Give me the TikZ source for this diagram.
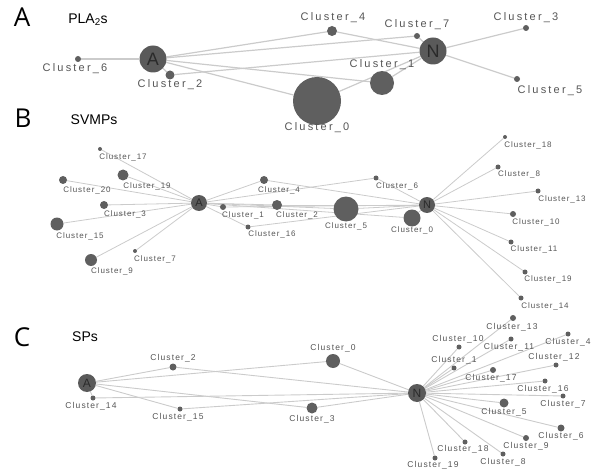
\documentclass[tikz,border=0pt]{standalone}
\usepackage{fontspec}
\setmainfont{Liberation Sans}
\newfontfamily\lblAfont[LetterSpace=20]{Liberation Sans}
\newfontfamily\lblBfont[LetterSpace=12]{Liberation Sans}
\newfontfamily\lblCfont[LetterSpace=13]{Liberation Sans}
\newfontfamily\panelfont{Open Sans}
\usetikzlibrary{backgrounds}
\definecolor{edgegray}{HTML}{CBCBCB}
\definecolor{nodegray}{HTML}{5F5F5F}
\definecolor{hubgray}{HTML}{5A5A5A}
\definecolor{hubtext}{HTML}{2A2A2A}
\definecolor{lblgray}{HTML}{555555}
\begin{document}
\begin{tikzpicture}[x=1pt,y=-1pt,
  cnode/.style={circle,fill=nodegray,inner sep=0pt,minimum size=#1},
  hub/.style={circle,fill=hubgray,inner sep=0pt,text=hubtext,minimum size=#1},
  lblA/.style={text=lblgray,inner sep=0pt,font=\lblAfont\fontsize{11}{11}\selectfont},
  lblB/.style={text=lblgray,inner sep=0pt,font=\lblBfont\fontsize{8}{8}\selectfont},
  lblC/.style={text=lblgray,inner sep=0pt,font=\lblCfont\fontsize{8.5}{8.5}\selectfont},
  panel/.style={inner sep=0pt,font=\panelfont\fontsize{26}{26}\selectfont},
  ptitle/.style={inner sep=0pt,font=\fontsize{14}{14}\selectfont},
  edgeA/.style={draw=edgegray,line width=1.2pt},
  edgeB/.style={draw=edgegray,line width=0.8pt},
  edgeC/.style={draw=edgegray,line width=0.9pt}]
\useasboundingbox (0,0) rectangle (600,476);

% ---------------- Panel A ----------------
\node[panel] (pA) at (22,17) {A};
\node[ptitle] (tA) at (88,20) {PLA\textsubscript{2}s};
\node[hub=27pt,font=\fontsize{18}{18}\selectfont] (aA) at (153,59) {A};
\node[hub=27pt,font=\fontsize{18}{18}\selectfont] (aN) at (433,51) {N};
\node[cnode=48pt] (a0) at (317,101) {};
\node[cnode=24pt] (a1) at (382,83) {};
\node[cnode=9pt] (a2) at (170,75) {};
\node[cnode=6pt] (a3) at (526,28) {};
\node[cnode=10pt] (a4) at (332,31) {};
\node[cnode=6pt] (a5) at (517,79) {};
\node[cnode=6pt] (a6) at (78,59) {};
\node[cnode=6pt] (a7) at (417,36) {};
\node[lblA] (la0) at (317,128) {Cluster\_0};
\node[lblA] (la1) at (382,65) {Cluster\_1};
\node[lblA] (la2) at (170,85) {Cluster\_2};
\node[lblA] (la3) at (526,18) {Cluster\_3};
\node[lblA] (la4) at (333,18) {Cluster\_4};
\node[lblA] (la5) at (550,91) {Cluster\_5};
\node[lblA] (la6) at (75,69) {Cluster\_6};
\node[lblA] (la7) at (417,25) {Cluster\_7};
\begin{scope}[on background layer]
\foreach \n in {a6,a2,a4,a7,a0,a1} \draw[edgeA] (aA) -- (\n);
\foreach \n in {a4,a7,a3,a5,a2,a0,a1} \draw[edgeA] (aN) -- (\n);
\end{scope}

% ---------------- Panel B ----------------
\node[panel] (pB) at (23,118) {B};
\node[ptitle] (tB) at (94,120) {SVMPs};
\node[hub=16pt,font=\fontsize{11}{11}\selectfont] (bA) at (199,203) {A};
\node[hub=16pt,font=\fontsize{11}{11}\selectfont] (bN) at (427,205) {N};
\node[cnode=4pt] (b17) at (100,149) {};
\node[cnode=11pt] (b19) at (123,175) {};
\node[cnode=8pt] (b20) at (63,180) {};
\node[cnode=8pt] (b3) at (104,205) {};
\node[cnode=13pt] (b15) at (57,224) {};
\node[cnode=4pt] (b7) at (135,251) {};
\node[cnode=12pt] (b9) at (91,260) {};
\node[cnode=8pt] (b4) at (264,180) {};
\node[cnode=5pt] (b6) at (376,178) {};
\node[cnode=6pt] (b1) at (223,207) {};
\node[cnode=10pt] (b2) at (277,205) {};
\node[cnode=5pt] (b16) at (248,227) {};
\node[cnode=25pt] (b5) at (346,209) {};
\node[cnode=17pt] (b0) at (412,218) {};
\node[cnode=4pt] (b18) at (505,137) {};
\node[cnode=5pt] (b8) at (498,167) {};
\node[cnode=5pt] (b13) at (538,191) {};
\node[cnode=6pt] (b10) at (513,214) {};
\node[cnode=5pt] (b11) at (511,242) {};
\node[cnode=5pt] (b19r) at (525,272) {};
\node[cnode=5pt] (b14) at (521,298) {};
\node[lblB] (lb17) at (123,157) {Cluster\_17};
\node[lblB] (lb19) at (147,186) {Cluster\_19};
\node[lblB] (lb20) at (87,190) {Cluster\_20};
\node[lblB] (lb3) at (125,214) {Cluster\_3};
\node[lblB] (lb15) at (80,236) {Cluster\_15};
\node[lblB] (lb7) at (155,259) {Cluster\_7};
\node[lblB] (lb9) at (112,271) {Cluster\_9};
\node[lblB] (lb4) at (279,190) {Cluster\_4};
\node[lblB] (lb6) at (397,186) {Cluster\_6};
\node[lblB] (lb1) at (243,215) {Cluster\_1};
\node[lblB] (lb2) at (297,215) {Cluster\_2};
\node[lblB] (lb16) at (272,234) {Cluster\_16};
\node[lblB] (lb5) at (346,226) {Cluster\_5};
\node[lblB] (lb0) at (412,230) {Cluster\_0};
\node[lblB] (lb18) at (528,145) {Cluster\_18};
\node[lblB] (lb8) at (519,174) {Cluster\_8};
\node[lblB] (lb13) at (562,199) {Cluster\_13};
\node[lblB] (lb10) at (536,222) {Cluster\_10};
\node[lblB] (lb11) at (534,249) {Cluster\_11};
\node[lblB] (lb19r) at (548,279) {Cluster\_19};
\node[lblB] (lb14) at (545,306) {Cluster\_14};
\begin{scope}[on background layer]
\foreach \n in {b17,b19,b20,b3,b15,b7,b9,b4,b6,b1,b2,b16,b5,b0} \draw[edgeB] (bA) -- (\n);
\foreach \n in {b4,b6,b1,b2,b16,b5,b0,b18,b8,b13,b10,b11,b19r,b14} \draw[edgeB] (bN) -- (\n);
\end{scope}

% ---------------- Panel C ----------------
\node[panel] (pC) at (22,337) {C};
\node[ptitle] (tC) at (85,337) {SPs};
\node[hub=18pt,font=\fontsize{12}{12}\selectfont] (cA) at (87,383) {A};
\node[hub=18pt,font=\fontsize{12}{12}\selectfont] (cN) at (417,393) {N};
\node[cnode=7pt] (c2) at (173,367) {};
\node[cnode=14pt] (c0) at (333,361) {};
\node[cnode=5pt] (c14) at (93,398) {};
\node[cnode=5pt] (c15) at (180,409) {};
\node[cnode=11pt] (c3) at (312,408) {};
\node[cnode=6pt] (c13) at (513,318) {};
\node[cnode=5pt] (c10) at (459,347) {};
\node[cnode=5pt] (c11) at (511,339) {};
\node[cnode=5pt] (c4) at (568,334) {};
\node[cnode=5pt] (c1) at (454,368) {};
\node[cnode=5pt] (c12) at (556,365) {};
\node[cnode=6pt] (c17) at (493,370) {};
\node[cnode=5pt] (c16) at (545,381) {};
\node[cnode=5pt] (c7) at (563,396) {};
\node[cnode=9pt] (c5) at (504,403) {};
\node[cnode=7pt] (c6) at (561,428) {};
\node[cnode=6pt] (c9) at (526,438) {};
\node[cnode=5pt] (c18) at (465,442) {};
\node[cnode=5pt] (c8) at (503,454) {};
\node[cnode=5pt] (c19) at (435,458) {};
\node[lblC] (lc2) at (173,358) {Cluster\_2};
\node[lblC] (lc0) at (333,348) {Cluster\_0};
\node[lblC] (lc14) at (91,406) {Cluster\_14};
\node[lblC] (lc15) at (178,417) {Cluster\_15};
\node[lblC] (lc3) at (312,419) {Cluster\_3};
\node[lblC] (lc13) at (512,327) {Cluster\_13};
\node[lblC] (lc10) at (458,339) {Cluster\_10};
\node[lblC] (lc11) at (509,347) {Cluster\_11};
\node[lblC] (lc4) at (568,342) {Cluster\_4};
\node[lblC] (lc1) at (454,360) {Cluster\_1};
\node[lblC] (lc12) at (554,357) {Cluster\_12};
\node[lblC] (lc17) at (491,378) {Cluster\_17};
\node[lblC] (lc16) at (543,389) {Cluster\_16};
\node[lblC] (lc7) at (563,404) {Cluster\_7};
\node[lblC] (lc5) at (504,412) {Cluster\_5};
\node[lblC] (lc6) at (561,436) {Cluster\_6};
\node[lblC] (lc9) at (526,446) {Cluster\_9};
\node[lblC] (lc18) at (463,449) {Cluster\_18};
\node[lblC] (lc8) at (503,462) {Cluster\_8};
\node[lblC] (lc19) at (433,465) {Cluster\_19};
\begin{scope}[on background layer]
\foreach \n in {c2,c0,c3,c15,c14} \draw[edgeC] (cA) -- (\n);
\foreach \n in {c2,c0,c3,c15,c14,c13,c10,c11,c4,c1,c12,c17,c16,c7,c5,c6,c9,c18,c8,c19} \draw[edgeC] (cN) -- (\n);
\end{scope}
\end{tikzpicture}
\end{document}
